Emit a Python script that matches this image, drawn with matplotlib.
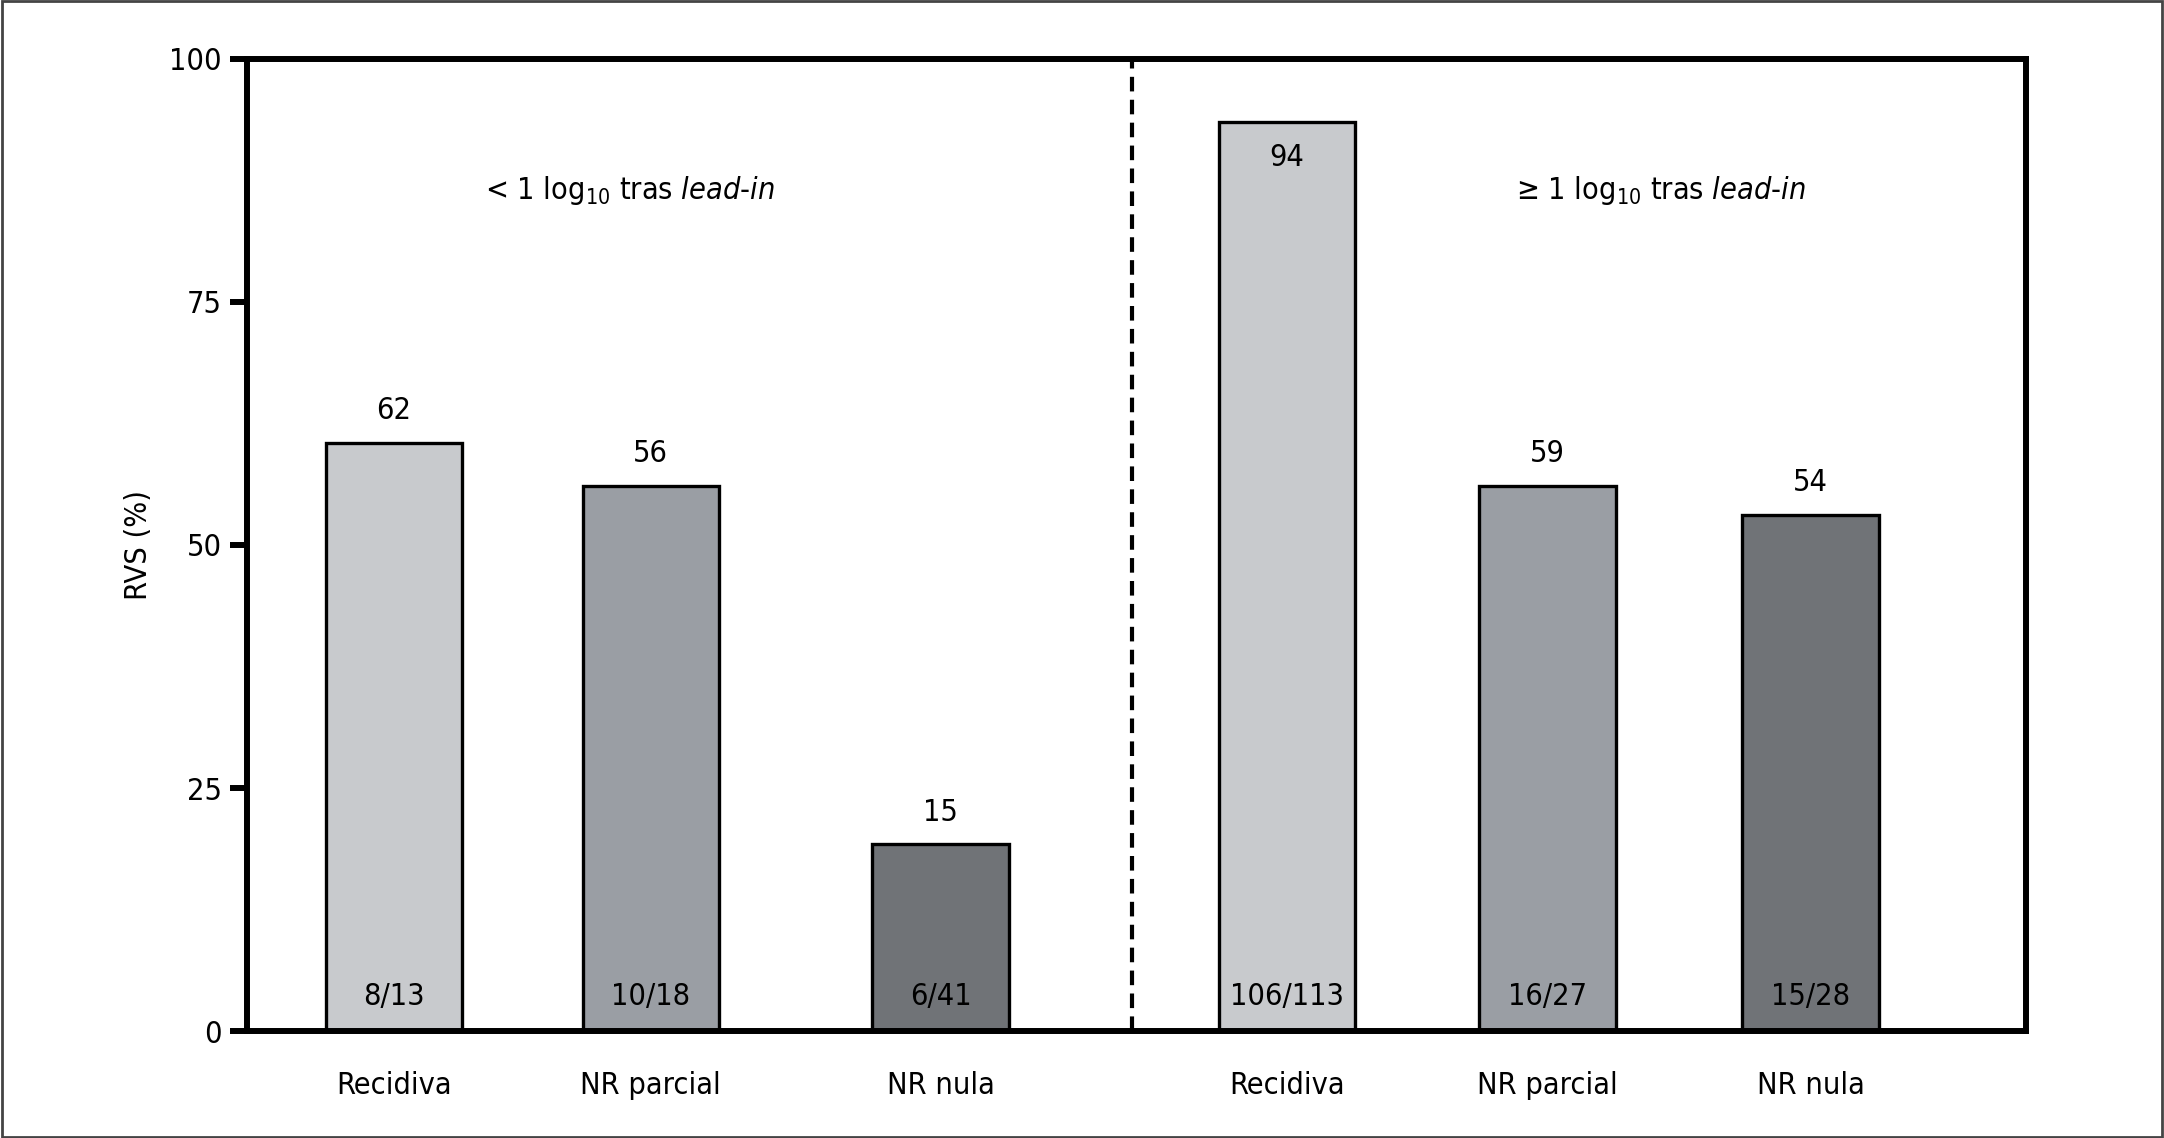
import numpy as np
import matplotlib
matplotlib.use('Agg')
from matplotlib import pyplot as plt
from matplotlib.patches import Rectangle

# data
categories = ['Recidiva', 'NR parcial', 'NR nula', 'Recidiva', 'NR parcial', 'NR nula']
bar_heights = [60.5, 56.1, 19.2, 93.5, 56.1, 53.1]
value_labels = ['62', '56', '15', '94', '59', '54']
fraction_labels = ['8/13', '10/18', '6/41', '106/113', '16/27', '15/28']
group_titles = [r'< 1 log$_{10}$ tras $\it{lead}$-$\it{in}$',
                r'≥ 1 log$_{10}$ tras $\it{lead}$-$\it{in}$']
yticks = [0, 25, 50, 75, 100]

# layout
positions = [0.56, 1.54, 2.645, 3.966, 4.96, 5.963]
colors = ['#c8cacd', '#9a9ea4', '#707377'] * 2
divider_x = 3.374
title_x = [1.46, 5.39]

# condensed face, closest to the original narrow font
plt.rcParams['font.family'] = ['DejaVu Sans']
plt.rcParams['font.stretch'] = 'condensed'
plt.rcParams['mathtext.fontset'] = 'custom'
plt.rcParams['mathtext.rm'] = 'DejaVu Sans:stretch=condensed'
plt.rcParams['mathtext.it'] = 'DejaVu Sans:italic:stretch=condensed'
FS = 22

fig = plt.figure(figsize=(21.64, 11.38), dpi=100)
ax = fig.add_axes([0.1141, 0.094, 0.8221, 0.8542])

ax.bar(positions, bar_heights, width=0.52, color=colors,
       edgecolor='black', linewidth=2.4, zorder=2)

for i, x in enumerate(positions):
    h = bar_heights[i]
    if h > 85:
        ax.text(x, h - 3.6, value_labels[i], ha='center', va='center', fontsize=FS)
    else:
        ax.text(x, h + 3.3, value_labels[i], ha='center', va='center', fontsize=FS)
    ax.text(x, 3.6, fraction_labels[i], ha='center', va='center', fontsize=FS, zorder=3)

ax.axvline(divider_x, color='black', linewidth=3, linestyle=(0, (3.5, 2)), zorder=1)

for tx, t in zip(title_x, group_titles):
    ax.text(tx, 86.5, t, ha='center', va='center', fontsize=FS)

ax.set_xlim(0, 6.784)
ax.set_ylim(0, 100)
ax.set_yticks(yticks)
ax.set_yticklabels([str(v) for v in yticks], fontsize=FS)
ax.set_xticks(positions)
ax.set_xticklabels(categories, fontsize=FS)
ax.tick_params(axis='x', length=0, pad=29)
ax.tick_params(axis='y', length=12, width=4.3, direction='out', pad=6)
for s in ax.spines.values():
    s.set_linewidth(4.3)
ax.set_ylabel('RVS (%)', fontsize=FS, labelpad=12)

# outer frame
fig.patches.append(Rectangle((0.001, 0.001), 0.998, 0.998, transform=fig.transFigure,
                             fill=False, edgecolor='#444444', linewidth=2))

fig.savefig('out.png', dpi=100)
